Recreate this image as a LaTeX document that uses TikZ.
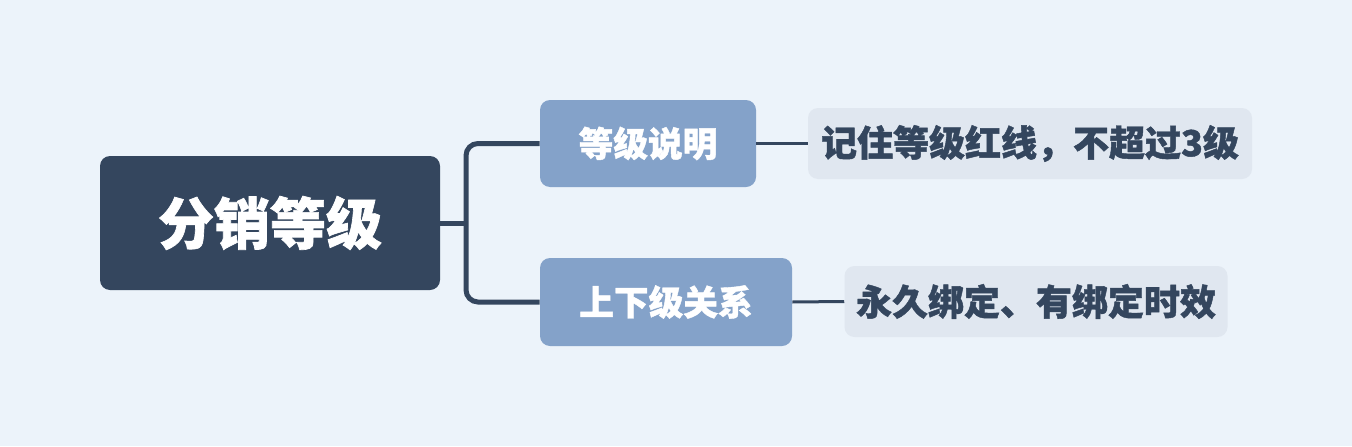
\documentclass[tikz,border=0pt]{standalone}
\usepackage{fontspec}
\setmainfont{Noto Sans CJK SC}[BoldFeatures={FakeBold=1.2}]
\usepackage{tikz}
\definecolor{PageBlue}{HTML}{ECF3FA}
\definecolor{RootNavy}{HTML}{34465E}
\definecolor{TopicBlue}{HTML}{84A2C9}
\definecolor{NoteGrey}{HTML}{E0E7F0}
\tikzset{
  rootbox/.style={fill=RootNavy, text=white, rounded corners=7.5pt, inner sep=0pt,
    font=\fontsize{42pt}{48pt}\selectfont\bfseries},
  topicbox/.style={fill=TopicBlue, text=white, rounded corners=7.5pt, inner sep=0pt,
    font=\fontsize{26pt}{30pt}\selectfont\bfseries},
  notebox/.style={fill=NoteGrey, text=RootNavy, rounded corners=7.5pt, inner sep=0pt,
    font=\fontsize{27pt}{31pt}\selectfont\bfseries},
  branch/.style={draw=RootNavy, line width=3.75pt},
  twig/.style={draw=RootNavy, line width=2.25pt}
}

\begin{document}
\begin{tikzpicture}[x=0.75pt, y=-0.75pt]
        \fill[PageBlue] (0,0) rectangle (1352,446);
        % main topic
        \node[rootbox, minimum width=255pt, minimum height=100.5pt] (root) at (270,223) {分销等级};
        % sub topics
        \node[topicbox, minimum width=162pt, minimum height=65.25pt] (levels) at (648,143.5) {等级说明};
        \node[topicbox, minimum width=189pt, minimum height=66pt] (relation) at (666,302) {上下级关系};
        % notes
        \node[notebox, minimum width=333pt, minimum height=53.25pt] (levelnote) at (1030,143.5) {记住等级红线，不超过3级};
        \node[notebox, minimum width=287.25pt, minimum height=53.25pt] (relationnote) at (1036,301.5) {永久绑定、有绑定时效};
        % connectors
        \coordinate (fork) at (466,223);
        \draw[branch] (root.east) -- (fork);
        \draw[branch, rounded corners=9pt] (levels.west) -| (fork) |- (relation.west);
        \draw[twig] (levels.east) -- (levelnote.west);
        \draw[twig] (relation.east) -- (relationnote.west);
      \end{tikzpicture}
\end{document}
